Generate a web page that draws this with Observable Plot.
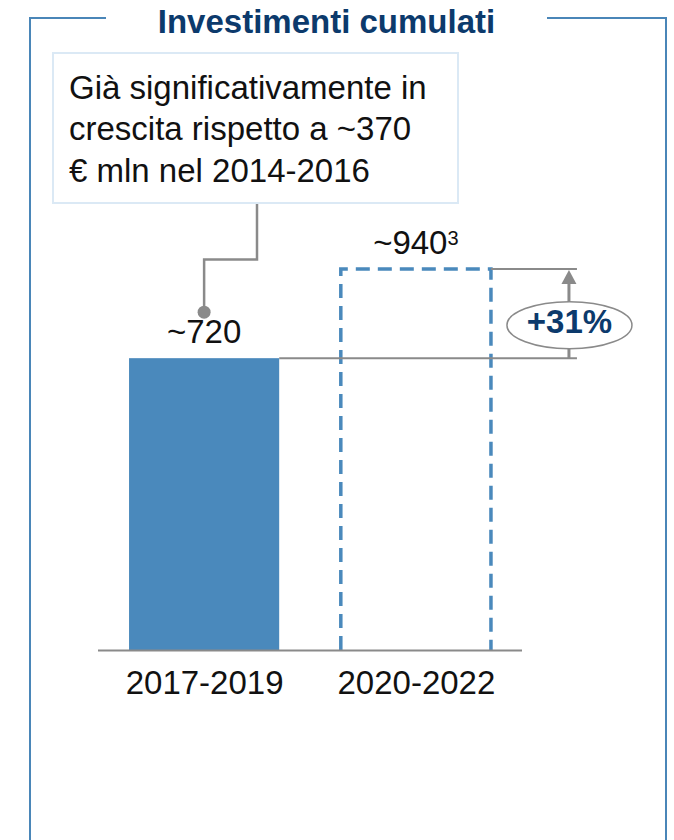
<!DOCTYPE html>
<html>
<head>
<meta charset="utf-8">
<script src="https://cdn.jsdelivr.net/npm/d3@7"></script>
<script src="https://cdn.jsdelivr.net/npm/@observablehq/plot@0.6"></script>
<style>
  body { margin: 0; background: #fff; overflow: hidden; }
  #wrap { position: relative; width: 674px; height: 840px; overflow: hidden; font-family: "Liberation Sans", Arial, sans-serif; }
  #chart { position: absolute; left: 0; top: 0; }
  #frame { position: absolute; left: 28.5px; top: 16.5px; width: 638px; height: 900px; border: 2px solid #4a86b8; box-sizing: border-box; }
  #title { position: absolute; left: 106px; width: 441px; top: 2px; height: 36px; background: #fff; text-align: center; font-weight: bold; font-size: 33px; line-height: 40px; color: #0c3a6c; white-space: nowrap; }
  #note { position: absolute; left: 52px; top: 52px; width: 407px; height: 152px; border: 2px solid #dbe9f5; box-sizing: border-box; background: #fff; padding: 12.5px 0 0 15px; font-size: 33px; line-height: 41.5px; color: #111; white-space: nowrap; }
</style>
</head>
<body>
<div id="wrap">
  <div id="frame"></div>
  <div id="chart"></div>
  <div id="title">Investimenti cumulati</div>
  <div id="note">Già significativamente in<br>crescita rispetto a ~370<br>€ mln nel 2014-2016</div>
</div>
<script>
// ---- data ----
const periods = ["2017-2019", "2020-2022"];
const values = [720, 940];
const valueLabels = ["~720", "~940"];
const footnotes = ["", "3"];
const kinds = ["actual", "target"];
const growthLabel = "+31%";

const data = periods.map((p, i) => ({period: p, value: values[i], label: valueLabels[i], note: footnotes[i], kind: kinds[i]}));

const BLUE = "#4a89bc";
const GRAY = "#8a8a8a";
const NAVY = "#0c3a6c";
const FONT = "'Liberation Sans', Arial, sans-serif";

function bandwidthOf(scales) {
  const x = scales.x;
  if (x && typeof x.bandwidth === "function") return x.bandwidth();
  return scales.scales.x.bandwidth;
}

// dashed outline (three sides) for target bars
const dashedBars = (index, scales) => {
  const bw = bandwidthOf(scales);
  const g = d3.create("svg:g");
  data.filter(d => d.kind === "target").forEach(d => {
    const x0 = scales.x(d.period), x1 = x0 + bw;
    const y0 = scales.y(0), y1 = scales.y(d.value);
    g.append("path")
      .attr("d", `M${x0},${y0}V${y1}H${x1}V${y0}`)
      .attr("fill", "none")
      .attr("stroke", BLUE)
      .attr("stroke-width", 3.5)
      .attr("stroke-dasharray", "14 8");
  });
  return g.node();
};

// value labels with superscript footnotes
const valueText = (index, scales) => {
  const bw = bandwidthOf(scales);
  const g = d3.create("svg:g").attr("font-family", FONT);
  data.forEach(d => {
    const t = g.append("text")
      .attr("x", scales.x(d.period) + bw / 2)
      .attr("y", scales.y(d.value) - 15)
      .attr("text-anchor", "middle")
      .attr("font-size", 33)
      .attr("fill", "#111");
    t.append("tspan").text(d.label);
    if (d.note) t.append("tspan").attr("font-size", 20).attr("dy", -9).text(d.note);
  });
  return g.node();
};

// annotations: connector, reference lines, growth arrow & bubble
const annotations = (index, scales) => {
  const bw = bandwidthOf(scales);
  const cx0 = scales.x(periods[0]) + bw / 2;
  const r0 = scales.x(periods[0]) + bw;
  const r1 = scales.x(periods[1]) + bw;
  const yA = scales.y(values[0]);
  const yB = scales.y(values[1]);
  const ax = r1 + 78;
  const g = d3.create("svg:g");

  // connector from note box to first bar
  g.append("path")
    .attr("d", `M257,204V259.5H${cx0}V${yA - 46}`)
    .attr("fill", "none").attr("stroke", GRAY).attr("stroke-width", 2.5);
  g.append("circle").attr("cx", cx0).attr("cy", yA - 46).attr("r", 6.5).attr("fill", GRAY);

  // reference lines
  g.append("line").attr("x1", r0).attr("x2", r1 + 86).attr("y1", yA).attr("y2", yA)
    .attr("stroke", GRAY).attr("stroke-width", 2);
  g.append("line").attr("x1", r1).attr("x2", r1 + 86).attr("y1", yB).attr("y2", yB)
    .attr("stroke", GRAY).attr("stroke-width", 2);

  // arrow
  g.append("line").attr("x1", ax).attr("x2", ax).attr("y1", yA).attr("y2", yB + 14)
    .attr("stroke", GRAY).attr("stroke-width", 3);
  g.append("path").attr("d", `M${ax},${yB + 1}L${ax - 7.5},${yB + 15}L${ax + 7.5},${yB + 15}Z`)
    .attr("fill", GRAY);

  // bubble
  g.append("ellipse").attr("cx", ax + 0.5).attr("cy", yA - 33).attr("rx", 62.5).attr("ry", 23.5)
    .attr("fill", "#fff").attr("stroke", GRAY).attr("stroke-width", 1.5);
  g.append("text").attr("x", ax + 0.5).attr("y", yA - 25)
    .attr("text-anchor", "middle").attr("font-weight", "bold").attr("font-size", 33)
    .attr("font-family", FONT).attr("fill", NAVY).text(growthLabel);
  return g.node();
};

const chart = Plot.plot({
  width: 674,
  height: 840,
  marginLeft: 98,
  marginRight: 152,
  marginTop: 269,
  marginBottom: 190,
  style: {fontFamily: FONT, fontSize: "33px", color: "#111", background: "transparent", overflow: "visible"},
  x: {type: "band", domain: periods, paddingInner: 0.291, paddingOuter: 0.1466, round: false, tickSize: 0, tickPadding: 20.5, label: null},
  y: {domain: [0, 940], axis: null},
  marks: [
    Plot.barY(data.filter(d => d.kind === "actual"), {x: "period", y: "value", fill: BLUE}),
    dashedBars,
    Plot.ruleY([0], {stroke: GRAY, strokeWidth: 2}),
    valueText,
    annotations
  ]
});
document.getElementById("chart").appendChild(chart);
</script>
</body>
</html>
